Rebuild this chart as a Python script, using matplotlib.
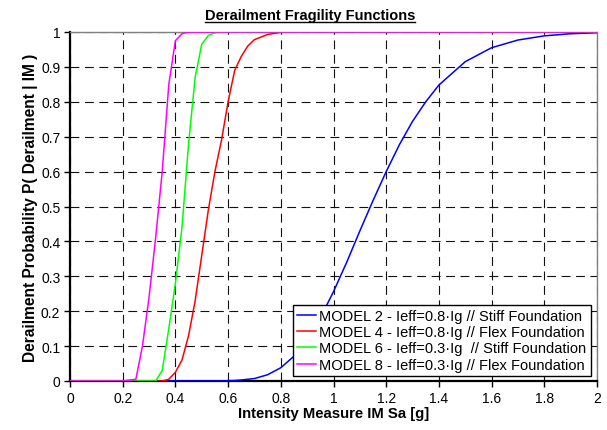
import numpy as np
import matplotlib.pyplot as plt
from matplotlib.lines import Line2D

plt.rcParams['font.family'] = ['Liberation Sans', 'DejaVu Sans']

# intensity measure Sa [g]
im = [0.0, 0.1, 0.2, 0.25, 0.275, 0.3, 0.325, 0.35, 0.375, 0.4,
      0.425, 0.45, 0.475, 0.5, 0.525, 0.55, 0.575, 0.6, 0.625, 0.65,
      0.675, 0.7, 0.75, 0.8, 0.85, 0.9, 0.95, 1.0, 1.05, 1.1,
      1.15, 1.2, 1.25, 1.3, 1.35, 1.4, 1.5, 1.6, 1.7, 1.8,
      1.9, 2.0]

# P(derailment | IM)
model2 = [0, 0, 0, 0, 0, 0, 0, 0, 0, 0,
          0, 0, 0, 0, 0, 0, 0, 0.001, 0.0015, 0.003,
          0.005, 0.007, 0.018, 0.038, 0.071, 0.119, 0.181, 0.256, 0.34, 0.43,
          0.517, 0.6, 0.677, 0.744, 0.80, 0.848, 0.915, 0.955, 0.977, 0.989,
          0.995, 0.998]
model4 = [0, 0, 0, 0, 0, 0, 0, 0, 0.005, 0.025,
          0.06, 0.13, 0.23, 0.36, 0.49, 0.6, 0.69, 0.8, 0.89, 0.93,
          0.96, 0.978, 0.993, 0.999, 1, 1, 1, 1, 1, 1,
          1, 1, 1, 1, 1, 1, 1, 1, 1, 1,
          1, 1]
model6 = [0, 0, 0, 0, 0, 0, 0, 0.03, 0.15, 0.28,
          0.44, 0.68, 0.87, 0.965, 0.99, 0.998, 1, 1, 1, 1,
          1, 1, 1, 1, 1, 1, 1, 1, 1, 1,
          1, 1, 1, 1, 1, 1, 1, 1, 1, 1,
          1, 1]
model8 = [0, 0, 0, 0.005, 0.1, 0.24, 0.41, 0.6, 0.85, 0.975,
          0.995, 1, 1, 1, 1, 1, 1, 1, 1, 1,
          1, 1, 1, 1, 1, 1, 1, 1, 1, 1,
          1, 1, 1, 1, 1, 1, 1, 1, 1, 1,
          1, 1]

labels = [
    "MODEL 2 - Ieff=0.8\u00b7Ig // Stiff Foundation",
    "MODEL 4 - Ieff=0.8\u00b7Ig // Flex Foundation",
    "MODEL 6 - Ieff=0.3\u00b7Ig  // Stiff Foundation",
    "MODEL 8 - Ieff=0.3\u00b7Ig // Flex Foundation",
]
colors = ['#0000FF', '#FF0000', '#00FF00', '#FF00FF']

fig = plt.figure(figsize=(6.07, 4.31), dpi=100)
ax = fig.add_axes([70 / 607, 49 / 431, 527 / 607, 349 / 431])

for ys, lab, c in zip([model2, model4, model6, model8], labels, colors):
    ax.plot(im, ys, color=c, linewidth=1.1, label=lab, zorder=3)

ax.set_xlim(0, 2)
ax.set_ylim(0, 1)
ax.set_xticks(np.arange(0, 2.01, 0.2))
ax.set_yticks(np.arange(0, 1.01, 0.1))
ax.set_xticklabels(["0", "0.2", "0.4", "0.6", "0.8", "1", "1.2", "1.4", "1.6", "1.8", "2"])
ax.set_yticklabels(["0", "0.1", "0.2", "0.3", "0.4", "0.5", "0.6", "0.7", "0.8", "0.9", "1"])

ax.grid(True, color='#111111', linestyle=(0, (8, 5)), linewidth=0.8, zorder=1)

for side in ['top', 'right']:
    ax.spines[side].set_color('#808080')
    ax.spines[side].set_linewidth(1.0)
for side in ['left', 'bottom']:
    ax.spines[side].set_color('black')
    ax.spines[side].set_linewidth(1.6)

ax.tick_params(axis='both', direction='out', length=4, width=1, labelsize=10, pad=3)

ax.set_xlabel("Intensity Measure IM Sa [g]", fontsize=10.7, fontweight='bold', labelpad=1)
ax.set_ylabel("Derailment Probability P( Derailment | IM )", fontsize=11.2,
              fontweight='bold', labelpad=2)

leg = ax.legend(loc='lower right', bbox_to_anchor=(0.9886, 0.0143), borderaxespad=0,
                fontsize=10.5, frameon=True, fancybox=False, framealpha=1,
                edgecolor='black', handlelength=1.3, handletextpad=0.25,
                labelspacing=0.15, borderpad=0.3)
leg.get_frame().set_linewidth(1.0)
leg.set_zorder(5)

title = fig.text(310 / 607, (431 - 20) / 431, "Derailment Fragility Functions",
                 ha='center', va='baseline', fontsize=10.5, fontweight='bold')

fig.canvas.draw()
bb = title.get_window_extent(fig.canvas.get_renderer())
bb = bb.transformed(fig.transFigure.inverted())
uy = (431 - 22.5) / 431
fig.add_artist(Line2D([bb.x0, bb.x1], [uy, uy], transform=fig.transFigure,
                      color='black', linewidth=1.0))

plt.savefig("out.png", dpi=100)
